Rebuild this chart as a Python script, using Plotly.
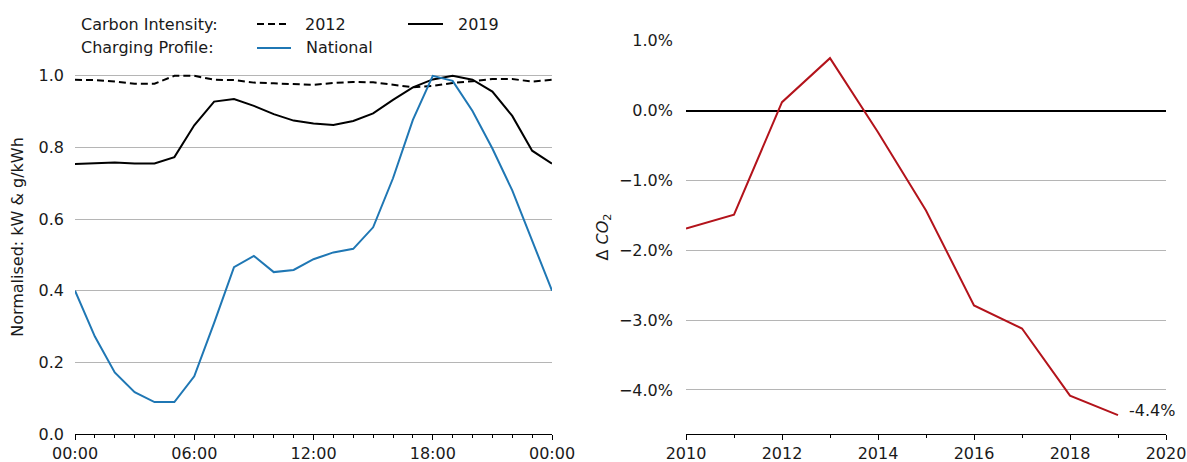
import plotly.graph_objects as go

# ---- data -------------------------------------------------------------
hours = list(range(25))
hour_ticks = [0, 6, 12, 18, 24]
hour_labels = ["00:00", "06:00", "12:00", "18:00", "00:00"]

carbon_2012 = [0.989, 0.988, 0.984, 0.978, 0.978, 1.000, 1.000, 0.989, 0.988,
               0.981, 0.979, 0.976, 0.975, 0.980, 0.983, 0.982, 0.975, 0.968,
               0.972, 0.980, 0.985, 0.991, 0.991, 0.984, 0.989]
carbon_2019 = [0.754, 0.757, 0.758, 0.755, 0.755, 0.773, 0.862, 0.928, 0.935,
               0.916, 0.893, 0.875, 0.867, 0.863, 0.874, 0.895, 0.933, 0.968,
               0.990, 1.000, 0.989, 0.956, 0.888, 0.791, 0.755]
charging_national = [0.400, 0.272, 0.172, 0.117, 0.089, 0.089, 0.161, 0.310,
                     0.466, 0.497, 0.452, 0.458, 0.488, 0.507, 0.517, 0.577,
                     0.714, 0.877, 1.000, 0.986, 0.902, 0.797, 0.680, 0.540,
                     0.400]

years = [2010, 2011, 2012, 2013, 2014, 2015, 2016, 2017, 2018, 2019]
delta_co2_pct = [-1.69, -1.49, 0.12, 0.75, -0.31, -1.43, -2.79, -3.12, -4.08, -4.36]

# ---- styling ----------------------------------------------------------
FONT = "DejaVu Sans"
TEXT = "#1a1a1a"
GRID = "#b5b5b5"
BLUE = "#1f77b4"
RED = "#b3131b"
W, H = 1187, 462
M_L, M_R, M_T, M_B = 75, 21, 40, 28
PLOT_W = W - M_L - M_R
PLOT_H = H - M_T - M_B


def px_x(px):
    """Pixel column -> paper x."""
    return (px - M_L) / PLOT_W


def px_y(py):
    """Pixel row -> paper y."""
    return (H - M_B - py) / PLOT_H


fig = go.Figure()

fig.add_trace(go.Scatter(x=hours, y=carbon_2012, mode="lines", name="2012",
                         line=dict(color="black", width=2, dash="7px,4px"),
                         xaxis="x", yaxis="y", showlegend=False))
fig.add_trace(go.Scatter(x=hours, y=carbon_2019, mode="lines", name="2019",
                         line=dict(color="black", width=2),
                         xaxis="x", yaxis="y", showlegend=False))
fig.add_trace(go.Scatter(x=hours, y=charging_national, mode="lines", name="National",
                         line=dict(color=BLUE, width=2),
                         xaxis="x", yaxis="y", showlegend=False))

fig.add_trace(go.Scatter(x=years, y=delta_co2_pct, mode="lines", name="ΔCO2",
                         line=dict(color=RED, width=2),
                         xaxis="x2", yaxis="y2", showlegend=False))

# end-of-series label on the right panel
fig.add_annotation(x=years[-1], y=delta_co2_pct[-1], xref="x2", yref="y2",
                   text=f"{delta_co2_pct[-1]:.1f}%", showarrow=False,
                   xanchor="left", yanchor="middle", xshift=9, yshift=5,
                   font=dict(family=FONT, size=16, color=TEXT))

# custom two-row key above the left panel
key_font = dict(family=FONT, size=16, color=TEXT)
rows = [
    (24, "Carbon Intensity:", [(257, 290, "black", "7px,4px", "2012"),
                                (408, 443, "black", "solid", "2019")]),
    (48, "Charging Profile:", [(257, 291, BLUE, "solid", "National")]),
]
for row_y, heading, entries in rows:
    fig.add_annotation(x=px_x(79), y=px_y(row_y), xref="paper", yref="paper",
                       text=heading, showarrow=False, xanchor="left",
                       yanchor="middle", font=key_font)
    for x0, x1, colour, dash, label in entries:
        fig.add_shape(type="line", xref="paper", yref="paper",
                      x0=px_x(x0), x1=px_x(x1), y0=px_y(row_y), y1=px_y(row_y),
                      line=dict(color=colour, width=2, dash=dash))
        fig.add_annotation(x=px_x(x1 + 13), y=px_y(row_y), xref="paper",
                           yref="paper", text=label, showarrow=False,
                           xanchor="left", yanchor="middle", font=key_font)

tick_font = dict(family=FONT, size=16, color=TEXT)

fig.update_layout(
    width=W, height=H,
    margin=dict(l=M_L, r=M_R, t=M_T, b=M_B),
    paper_bgcolor="white", plot_bgcolor="white",
    font=dict(family=FONT, size=16, color=TEXT),
    xaxis=dict(
        domain=[0, px_x(552)], range=[0, 24], automargin=False,
        tickmode="array", tickvals=hour_ticks, ticktext=hour_labels,
        ticks="outside", ticklen=5, tickwidth=1, tickcolor="black",
        showline=True, linecolor="black", linewidth=1,
        showgrid=False, zeroline=False, tickfont=tick_font,
        minor=dict(tickmode="linear", tick0=0, dtick=1, ticks="outside",
                   ticklen=3, tickwidth=1, tickcolor="black", showgrid=False),
    ),
    yaxis=dict(
        range=[0, 1.1], tickmode="linear", tick0=0, dtick=0.2, automargin=False,
        tickformat=".1f", ticks="", showline=False,
        showgrid=True, gridcolor=GRID, gridwidth=1.3, zeroline=False,
        tickfont=tick_font, ticklabelstandoff=10,
        title=dict(text="Normalised: kW & g/kWh", standoff=10,
                   font=dict(family=FONT, size=16, color=TEXT)),
    ),
    xaxis2=dict(
        domain=[px_x(686), 1], range=[2010, 2020], anchor="y2", automargin=False,
        tickmode="linear", tick0=2010, dtick=2,
        ticks="outside", ticklen=5, tickwidth=1, tickcolor="black",
        showline=True, linecolor="black", linewidth=1,
        showgrid=False, zeroline=False, tickfont=tick_font,
        minor=dict(tickmode="linear", tick0=2010, dtick=1, ticks="outside",
                   ticklen=3, tickwidth=1, tickcolor="black", showgrid=False),
    ),
    yaxis2=dict(
        anchor="x2", range=[-4.63, 1.01], tickmode="linear", tick0=0, dtick=1,
        automargin=False,
        tickformat=".1f", ticksuffix="%", ticks="", showline=False,
        showgrid=True, gridcolor=GRID, gridwidth=1.3,
        zeroline=True, zerolinecolor="black", zerolinewidth=1.5,
        tickfont=tick_font, ticklabelstandoff=12,
        title=dict(text="Δ <i>CO</i><sub>2</sub>", standoff=6,
                   font=dict(family=FONT, size=16, color=TEXT)),
    ),
)

fig.write_html("out.html")
